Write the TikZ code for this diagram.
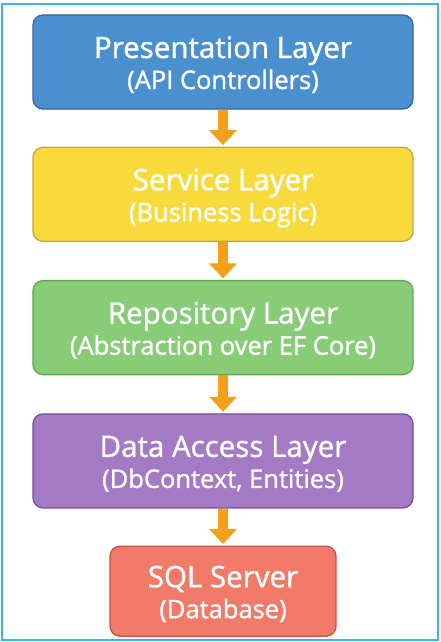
\documentclass[tikz,border=0pt]{standalone}
\usepackage{fontspec}
\setmainfont{Open Sans}
\newfontfamily\layerfont{Open Sans}[FakeBold=1.2]
\usepackage{tikz}
\usetikzlibrary{positioning,arrows.meta}
\definecolor{presfill}{RGB}{74,144,206}
\definecolor{presline}{RGB}{50,100,160}
\definecolor{servfill}{RGB}{248,218,60}
\definecolor{servline}{RGB}{196,166,64}
\definecolor{repofill}{RGB}{136,204,120}
\definecolor{repoline}{RGB}{96,166,88}
\definecolor{dalfill}{RGB}{164,122,196}
\definecolor{dalline}{RGB}{118,80,150}
\definecolor{dbfill}{RGB}{242,122,104}
\definecolor{dbline}{RGB}{198,82,70}
\definecolor{flowcol}{RGB}{245,160,26}
\definecolor{framecol}{RGB}{60,180,230}
\newcommand{\ttl}[1]{{\fontsize{29.5}{31}\selectfont #1}}

\begin{document}
\begin{tikzpicture}[x=1pt, y=-1pt,
		layer/.style={rectangle, rounded corners=10pt, line width=1.3pt, text=white,
			minimum width=380pt, minimum height=94pt, inner sep=0pt, align=center,
			text height=54pt, text depth=0pt,
			font=\layerfont\fontsize{25.5}{31}\selectfont},
		flow/.style={flowcol, line width=10pt, -{Triangle[width=27pt, length=15pt]}, shorten >=1.5pt}]
			\useasboundingbox (0, 0) rectangle (440, 642);
			\draw [framecol, line width=2] (2, 4) rectangle (438, 640);
			\node [layer, fill=presfill, draw=presline] (pres) at (223, 62) {\ttl{Presentation Layer}\\(API Controllers)};
			\node [layer, fill=servfill, draw=servline, below=37pt of pres] (serv) {\ttl{Service Layer}\\(Business Logic)};
			\node [layer, fill=repofill, draw=repoline, below=38pt of serv] (repo) {\ttl{Repository Layer}\\(Abstraction over EF Core)};
			\node [layer, fill=dalfill, draw=dalline, below=38pt of repo] (dal) {\ttl{Data Access Layer}\\(DbContext, Entities)};
			\node [layer, fill=dbfill, draw=dbline, minimum width=226pt, minimum height=90pt, below=37pt of dal] (db) {\ttl{SQL Server}\\(Database)};
			\draw [flow] (pres) -- (serv);
			\draw [flow] (serv) -- (repo);
			\draw [flow] (repo) -- (dal);
			\draw [flow] (dal) -- (db);
\end{tikzpicture}
\end{document}
